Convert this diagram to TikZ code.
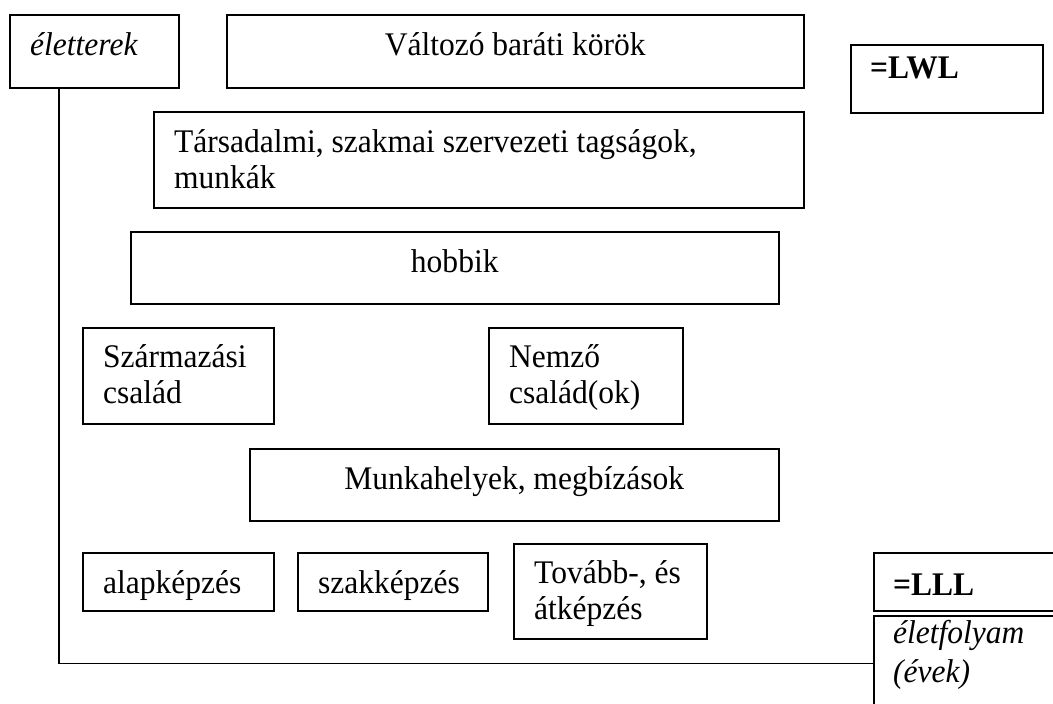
\documentclass[tikz,border=0pt]{standalone}
\usepackage{fontspec}
\setmainfont{Liberation Serif}[FakeStretch=0.955]
\begin{document}
\begin{tikzpicture}[x=1pt,y=-1pt,
  box/.style={draw, line width=1.5pt, inner sep=0pt, anchor=north west},
  txt/.style={inner sep=0pt, anchor=base west, font=\fontsize{33}{36}\selectfont},
  ctxt/.style={inner sep=0pt, anchor=base, font=\fontsize{33}{36}\selectfont}]
\useasboundingbox (0,0) rectangle (1053,704);
\clip (0,0) rectangle (1053,704);
% boxes
\node[box, minimum width=169pt, minimum height=73pt] (elet) at (9,14) {};
\node[box, minimum width=577pt, minimum height=73pt] (barat) at (226,14) {};
\node[box, minimum width=192pt, minimum height=68pt] (lwl) at (850,44) {};
\node[box, minimum width=650pt, minimum height=96pt] (tars) at (153,111) {};
\node[box, minimum width=648pt, minimum height=72pt] (hobbi) at (130,231) {};
\node[box, minimum width=191pt, minimum height=96pt] (szarm) at (82,327) {};
\node[box, minimum width=194pt, minimum height=96pt] (nemzo) at (488,327) {};
\node[box, minimum width=529pt, minimum height=72pt] (munka) at (249,448) {};
\node[box, minimum width=191pt, minimum height=58pt] (alap) at (82,552) {};
\node[box, minimum width=190pt, minimum height=58pt] (szak) at (297,552) {};
\node[box, minimum width=193pt, minimum height=95pt] (tovabb) at (513,543) {};
\node[box, minimum width=220pt, minimum height=58pt] (lll) at (873,552) {};
\node[box, minimum width=220pt, minimum height=95pt] (folyam) at (873,615) {};
% texts
\node[txt] (t-elet) at (30,55) {\textit{életterek}};
\node[ctxt] (t-barat) at (barat.center |- 0,55) {Változó baráti körök};
\node[txt] (t-lwl) at (870,78) {\textbf{=LWL}};
\node[txt] (t-tars1) at (174,152) {Társadalmi, szakmai szervezeti tagságok,};
\node[txt] (t-tars2) at (174,188) {munkák};
\node[ctxt] (t-hobbi) at (hobbi.center |- 0,272) {hobbik};
\node[txt] (t-szarm1) at (103,367) {Származási};
\node[txt] (t-szarm2) at (103,403) {család};
\node[txt] (t-nemzo1) at (509,367) {Nemző};
\node[txt] (t-nemzo2) at (509,403) {család(ok)};
\node[ctxt] (t-munka) at (munka.center |- 0,489) {Munkahelyek, megbízások};
\node[txt] (t-alap) at (103,593) {alapképzés};
\node[txt] (t-szak) at (318,593) {szakképzés};
\node[txt] (t-tovabb1) at (534,583) {Tovább-, és};
\node[txt] (t-tovabb2) at (534,619) {átképzés};
\node[txt] (t-lll) at (893,595) {\textbf{=LLL}};
\node[txt] (t-folyam1) at (893,643) {\textit{életfolyam}};
\node[txt] (t-folyam2) at (893,682) {\textit{(évek)}};
% axis connector
\draw[line width=1.5pt] ([xshift=-35.5pt]elet.south) |- (folyam.west);
\end{tikzpicture}
\end{document}
